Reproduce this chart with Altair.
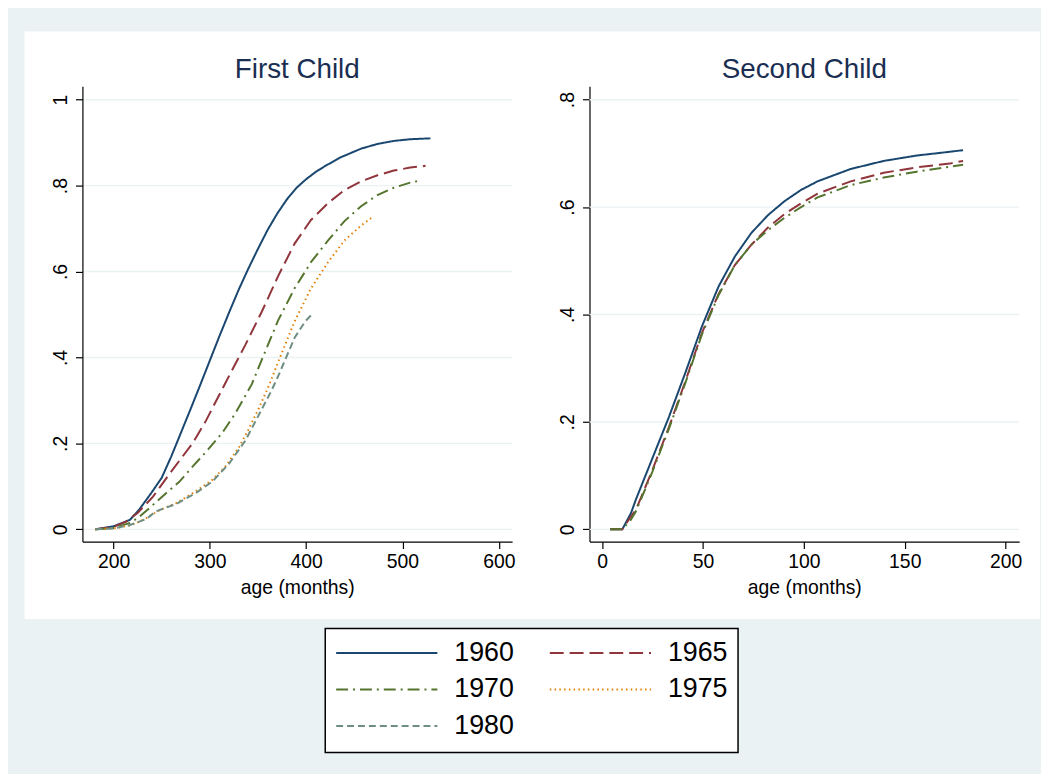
import json
import altair as alt
import pandas as pd

# ---------------- data ----------------
cohorts = ["1960", "1965", "1970", "1975", "1980"]
line_colors = ["#1a476f", "#90353b", "#55752f", "#e37e00", "#6e8e84"]
line_dashes = [[1, 0], [14, 6], [12, 5, 2, 5], [1.5, 3.3], [7, 4]]

# First child: age (months) and cumulative proportion
first_1960_months = [181, 200, 217, 227, 239, 250, 260, 270, 280, 290, 300, 310, 320, 330, 340,
                     350, 360, 370, 380, 390, 400, 410, 420, 436, 457, 474, 491, 508, 529]
first_1960_share = [0, 0.007, 0.022, 0.047, 0.084, 0.12, 0.17, 0.225, 0.28, 0.336, 0.393, 0.45,
                    0.505, 0.558, 0.607, 0.653, 0.697, 0.735, 0.768, 0.795, 0.815, 0.832, 0.846,
                    0.866, 0.886, 0.897, 0.904, 0.908, 0.910]
first_1965_months = [181, 200, 213, 225, 241, 261, 282, 296, 316, 337, 354, 371, 388, 405, 423,
                     440, 457, 474, 491, 508, 524]
first_1965_share = [0, 0.006, 0.018, 0.038, 0.076, 0.138, 0.20, 0.253, 0.34, 0.43, 0.507, 0.59,
                    0.665, 0.72, 0.76, 0.79, 0.81, 0.824, 0.835, 0.842, 0.846]
first_1970_months = [181, 200, 217, 225, 237, 254.5, 268, 282, 296, 313, 326.5, 343.6, 354, 371,
                     388, 399, 405, 423, 440, 457, 474, 491, 508, 517]
first_1970_share = [0, 0.003, 0.015, 0.026, 0.049, 0.084, 0.11, 0.146, 0.18, 0.225, 0.27,
                    0.338, 0.395, 0.487, 0.561, 0.60, 0.622, 0.673, 0.718, 0.752, 0.778, 0.795,
                    0.807, 0.811]
first_1975_months = [181, 200, 217, 225, 234, 248, 265, 285, 302.5, 316, 330, 340, 350.5, 361,
                     371, 388, 405, 423, 440, 457, 469]
first_1975_share = [0, 0.002, 0.009, 0.016, 0.026, 0.045, 0.061, 0.088, 0.115, 0.146, 0.19, 0.232,
                    0.28, 0.333, 0.39, 0.484, 0.561, 0.623, 0.673, 0.707, 0.727]
first_1980_months = [181, 200, 217, 234, 244, 265, 285, 302.5, 320, 337, 350.5, 364, 371, 388,
                     399, 407]
first_1980_share = [0, 0.002, 0.01, 0.024, 0.042, 0.059, 0.084, 0.111, 0.153, 0.207, 0.265,
                    0.323, 0.357, 0.446, 0.484, 0.503]

# Second child: months since first birth and cumulative proportion
second_months = [4, 10, 14.3, 16.7, 24.9, 33.1, 41.3, 49.5, 57.7, 65.8, 74, 82.2, 90.4, 98.6,
                 106.8, 123.2, 139.6, 155.9, 172.3, 178.9]
second_1960_share = [0, 0, 0.03, 0.055, 0.132, 0.209, 0.292, 0.378, 0.452, 0.508, 0.552, 0.585,
                     0.611, 0.632, 0.648, 0.671, 0.686, 0.696, 0.703, 0.706]
second_1965_share = [0, 0, 0.024, 0.036, 0.11, 0.19, 0.276, 0.366, 0.438, 0.492, 0.53, 0.562,
                     0.587, 0.607, 0.625, 0.648, 0.664, 0.674, 0.681, 0.686]
second_1970_share = [0, 0, 0.018, 0.033, 0.107, 0.187, 0.273, 0.363, 0.436, 0.492, 0.53, 0.557,
                     0.58, 0.6, 0.618, 0.641, 0.655, 0.666, 0.675, 0.679]

x_ticks_first = [200, 300, 400, 500, 600]
x_ticks_second = [0, 50, 100, 150, 200]
y_ticks_first = [0, 0.2, 0.4, 0.6, 0.8, 1.0]
y_labels_first = ["0", ".2", ".4", ".6", ".8", "1"]
y_ticks_second = [0, 0.2, 0.4, 0.6, 0.8]
y_labels_second = ["0", ".2", ".4", ".6", ".8"]

titles = ["First Child", "Second Child"]
x_title = "age (months)"

# ---------------- styling ----------------
FONT = "Liberation Sans"
BG = "#eaf2f3"
GRID = "#eaf2f3"
TITLE_COLOR = "#1a2e52"
PW, PH = 433, 458.7


def frame(series):
    rows = []
    for cohort, months, shares in series:
        for m, s in zip(months, shares):
            rows.append({"cohort": cohort, "months": m, "share": s})
    return pd.DataFrame(rows)


first_df = frame([
    ("1960", first_1960_months, first_1960_share),
    ("1965", first_1965_months, first_1965_share),
    ("1970", first_1970_months, first_1970_share),
    ("1975", first_1975_months, first_1975_share),
    ("1980", first_1980_months, first_1980_share),
])
second_df = frame([
    ("1960", second_months, second_1960_share),
    ("1965", second_months, second_1965_share),
    ("1970", second_months, second_1970_share),
])

color_scale = alt.Scale(domain=cohorts, range=line_colors)
dash_scale = alt.Scale(domain=cohorts, range=line_dashes)


def panel(df, title, x_dom, x_ticks, y_dom, y_ticks, y_labels, backdrop):
    z = 1 if backdrop else 0
    xscale = alt.Scale(domain=x_dom, nice=False, zero=False)
    yscale = alt.Scale(domain=y_dom, nice=False, zero=False)
    x_axis = alt.Axis(values=x_ticks, title=x_title, grid=False, domainColor="black",
                      domainWidth=1.2, tickColor="black", tickSize=7, tickWidth=1.2,
                      labelFont=FONT, labelFontSize=19.5, labelColor="black", labelPadding=4.5,
                      labelFlush=False, labelOverlap=False, titleFont=FONT, titleFontSize=19.5,
                      titleFontWeight="normal", titleColor="black", titlePadding=7, zindex=z)
    y_axis = alt.Axis(values=y_ticks, title=None, grid=False, domainColor="black",
                      domainWidth=1.2, tickColor="black", tickSize=7, tickWidth=1.2,
                      labelFont=FONT, labelFontSize=19.5, labelColor="black",
                      labelExpr=json.dumps(y_labels) + "[round(datum.value * 5)]",
                      labelAngle=270, labelAlign="center", labelBaseline="alphabetic",
                      labelPadding=9.3, labelOverlap=False, labelFlush=False, zindex=z)
    grid = alt.Chart(pd.DataFrame({"share": y_ticks})).mark_rule(
        color=GRID, strokeWidth=1.4
    ).encode(y=alt.Y("share:Q", scale=yscale, axis=y_axis))
    lines = alt.Chart(df).mark_line(strokeWidth=2).encode(
        x=alt.X("months:Q", scale=xscale, axis=x_axis),
        y=alt.Y("share:Q", scale=yscale, axis=y_axis),
        color=alt.Color("cohort:N", scale=color_scale, legend=None),
        strokeDash=alt.StrokeDash("cohort:N", scale=dash_scale, legend=None),
    )
    heading = alt.Chart(pd.DataFrame({"title": [title]})).mark_text(
        font=FONT, fontSize=28, color=TITLE_COLOR, align="center", baseline="alphabetic"
    ).encode(text="title:N", x=alt.value(PW / 2), y=alt.value(-8.3))
    layers = [grid, lines, heading]
    if backdrop:
        rect = alt.Chart(pd.DataFrame({"a": [0]})).mark_rect(color="white").encode(
            x=alt.value(-58.3), x2=alt.value(965), y=alt.value(-55.3), y2=alt.value(536.7)
        )
        layers = [rect] + layers
    return alt.layer(*layers).properties(width=PW, height=PH)


left = panel(first_df, titles[0], [167.7, 613.8], x_ticks_first, [-0.0284, 1.031],
             y_ticks_first, y_labels_first, True)
right = panel(second_df, titles[1], [-6.24, 206.7], x_ticks_second, [-0.0227, 0.8248],
              y_ticks_second, y_labels_second, False)

# ---------------- legend (sits below the left panel, offset to the centre) ----------------
LEG_X0, LEG_W, LEG_H = 244.7, 416, 125
legend_df = pd.DataFrame({
    "cohort": cohorts,
    "col": [i % 2 for i in range(len(cohorts))],
    "row": [i // 2 for i in range(len(cohorts))],
})
lx = alt.X("col:Q", scale=alt.Scale(domain=[0, 1], range=[LEG_X0 + 11, LEG_X0 + 226.3]),
           axis=None)
ly = alt.Y("row:Q", scale=alt.Scale(domain=[0, 2], range=[24.7, 98.4]), axis=None)
leg_base = alt.Chart(legend_df)
leg_box = alt.Chart(pd.DataFrame({"a": [0]})).mark_rect(
    fill="white", stroke="black", strokeWidth=1.5
).encode(x=alt.value(LEG_X0), x2=alt.value(LEG_X0 + LEG_W), y=alt.value(0),
         y2=alt.value(LEG_H))
leg_rules = leg_base.mark_rule(strokeWidth=2, x2Offset=102).encode(
    x=lx, x2=alt.X2("col:Q"), y=ly,
    color=alt.Color("cohort:N", scale=color_scale, legend=None),
    strokeDash=alt.StrokeDash("cohort:N", scale=dash_scale, legend=None),
)
leg_text = leg_base.mark_text(align="left", baseline="middle", font=FONT, fontSize=27,
                              color="black", xOffset=119).encode(x=lx, y=ly, text="cohort:N")
legend = alt.layer(leg_box, leg_rules, leg_text).properties(width=PW, height=LEG_H)

chart = alt.concat(
    left, right, legend,
    columns=2,
    spacing=alt.RowColnumber(row=87.3, column=78),
    bounds="flush",
).properties(
    background=BG,
    padding={"left": 16, "top": 20, "right": 1, "bottom": 19},
).configure_view(stroke=None)

chart.save("out.html", embed_options={"renderer": "svg", "actions": False})
